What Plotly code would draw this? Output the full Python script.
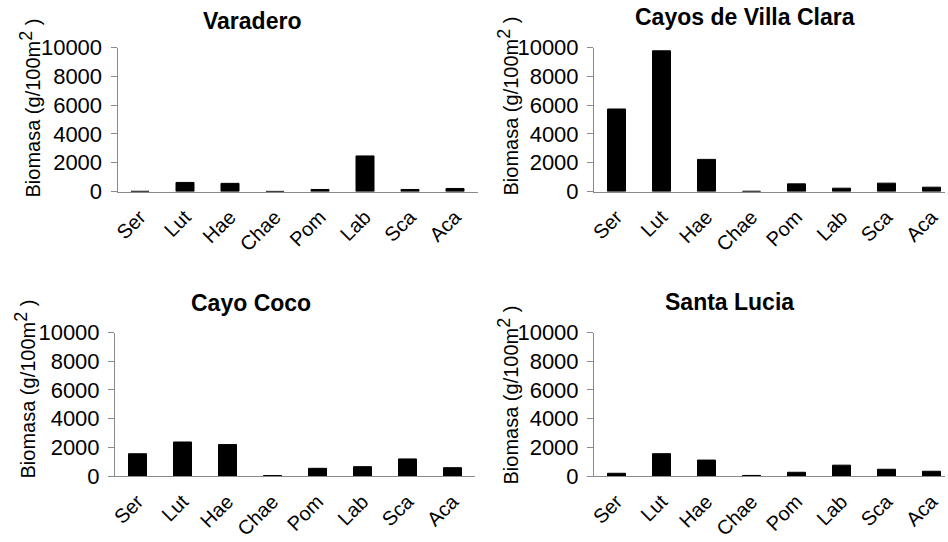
import plotly.graph_objects as go

# Fish family groups and biomass (g/100 m2) per site
categorias = ["Ser", "Lut", "Hae", "Chae", "Pom", "Lab", "Sca", "Aca"]
varadero = [15, 630, 565, 10, 140, 2470, 140, 210]
villa_clara = [5730, 9770, 2230, 20, 530, 230, 580, 300]
cayo_coco = [1550, 2370, 2190, 30, 535, 650, 1190, 580]
santa_lucia = [190, 1555, 1110, 40, 260, 755, 470, 330]

sitios = ["Varadero", "Cayos de Villa Clara", "Cayo Coco", "Santa Lucia"]
series = [varadero, villa_clara, cayo_coco, santa_lucia]
y_ticks = [0, 2000, 4000, 6000, 8000, 10000]
y_ticktext = ["0", "2000", "4000", "6000", "8000", "10000"]
y_title = 'Biomasa (g/100m<sup><span style="font-size:18px">2</span></sup> )'

W, H = 948, 542
FONT = "Liberation Sans, Arial, sans-serif"
GRAY = "#8a8a8a"

# plot-area boxes in pixels: (left, right, top, bottom, x-range end)
boxes = [
    (117.5, 477.5, 47.5, 191.5, 7.5),
    (594.0, 945.0, 47.5, 191.5, 7.3),
    (115.0, 475.0, 332.5, 476.0, 7.5),
    (594.0, 945.0, 332.5, 476.0, 7.3),
]
# title centre / y-title position in pixels
title_pos = [(252, 21), (745, 17), (251, 303), (729, 302)]
ytitle_pos = [(29, 200), (507, 197), (24, 481), (507, 486)]

fig = go.Figure()
layout = {}
annotations = []
for i, (name, vals) in enumerate(zip(sitios, series)):
    n = "" if i == 0 else str(i + 1)
    l, r, t, b, xend = boxes[i]
    fig.add_trace(go.Bar(
        x=categorias, y=vals, width=0.4,
        marker=dict(color="black", line=dict(color="black", width=1)),
        xaxis="x" + n, yaxis="y" + n, showlegend=False,
    ))
    layout["xaxis" + n] = dict(
        domain=[l / W, r / W], anchor="y" + n, type="category",
        range=[-0.5, xend], showline=True, linecolor=GRAY, linewidth=1,
        showgrid=False, zeroline=False, ticks="", tickangle=-45,
        automargin=False, ticklabelstandoff=5,
        tickfont=dict(family=FONT, size=20, color="black"),
    )
    layout["yaxis" + n] = dict(
        domain=[1 - b / H, 1 - t / H], anchor="x" + n,
        range=[0, 10000], tickvals=y_ticks, ticktext=y_ticktext,
        showline=True, linecolor=GRAY, linewidth=1,
        ticks="outside", ticklen=6, tickcolor=GRAY, tickwidth=1,
        showgrid=False, zeroline=False, ticklabelstandoff=4,
        automargin=False,
        tickfont=dict(family=FONT, size=22, color="black"),
    )
    tx, ty = title_pos[i]
    annotations.append(dict(
        text="<b>%s</b>" % name, x=tx / W, y=1 - ty / H,
        xref="paper", yref="paper", xanchor="center", yanchor="middle",
        showarrow=False, font=dict(family=FONT, size=23, color="black"),
    ))
    yx, yy = ytitle_pos[i]
    annotations.append(dict(
        text=y_title, x=yx / W, y=1 - yy / H, textangle=-90,
        xref="paper", yref="paper", xanchor="center", yanchor="bottom",
        showarrow=False, font=dict(family=FONT, size=20, color="black"),
    ))

fig.update_layout(
    **layout,
    template="none",
    annotations=annotations,
    width=W, height=H,
    margin=dict(l=0, r=0, t=0, b=0, autoexpand=False),
    paper_bgcolor="white", plot_bgcolor="white",
    bargap=0.6,
)

fig.write_html("out.html")
